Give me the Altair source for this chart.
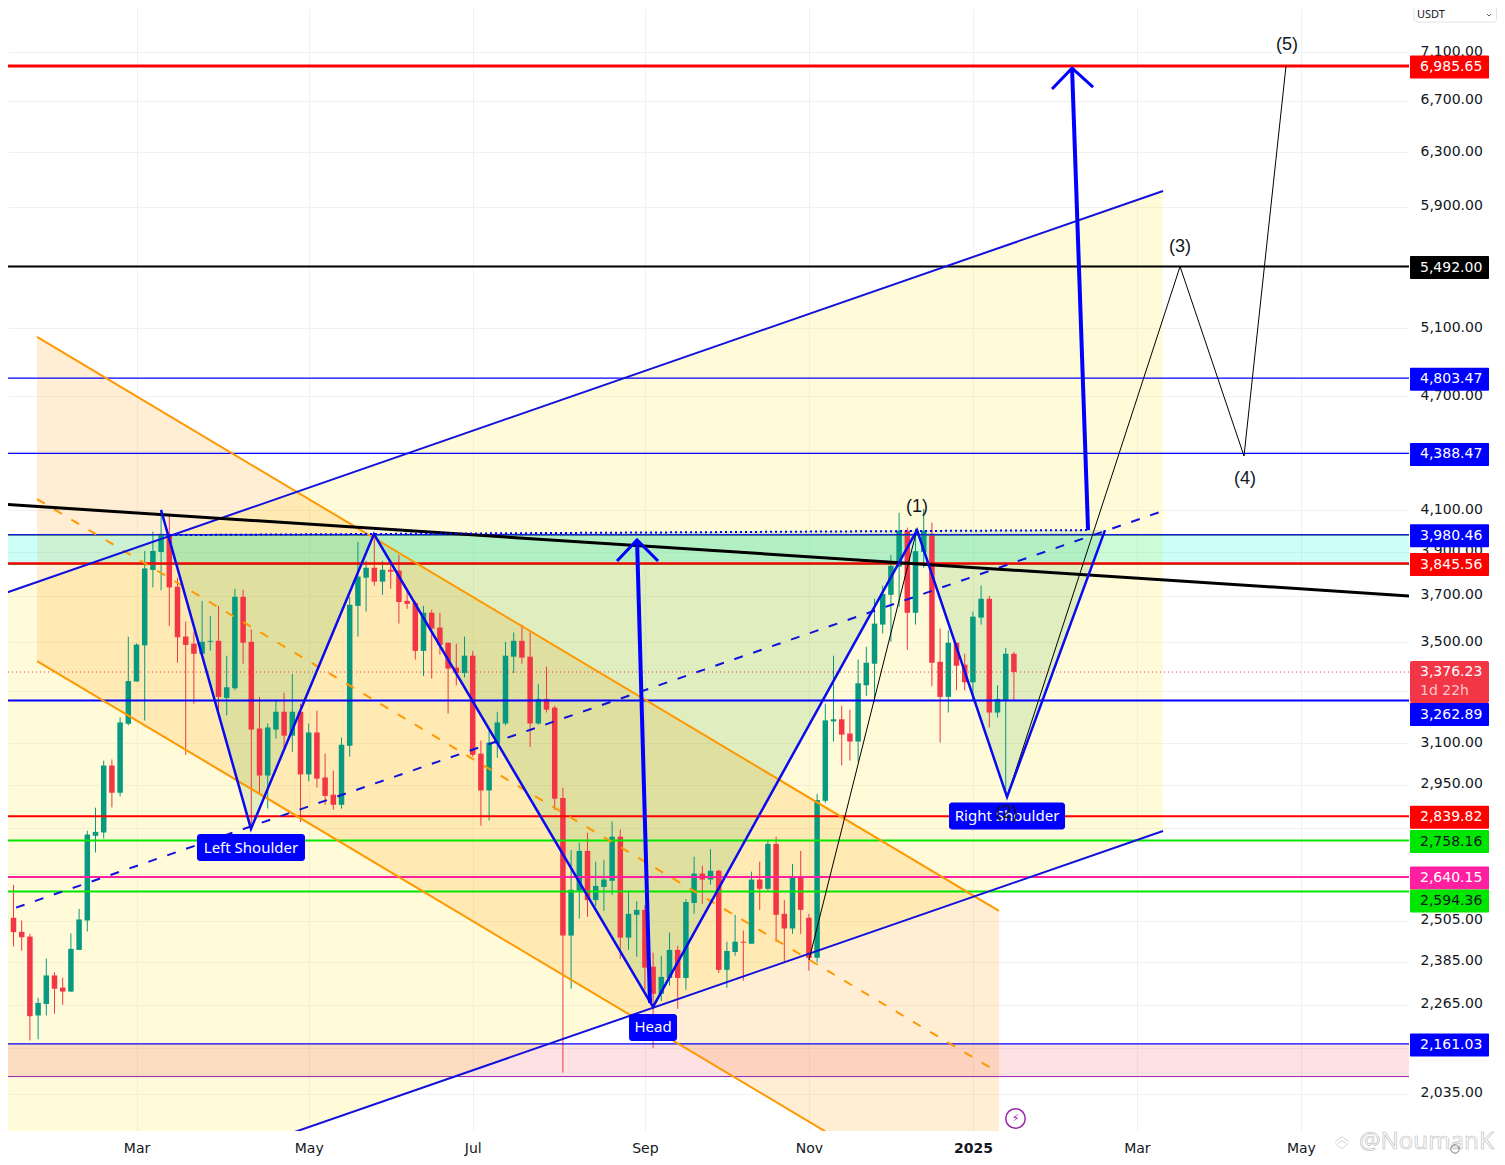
import altair as alt
import pandas as pd

FONT = "Noto Sans"
AXFONT = "DejaVu Sans"
# 3-day candles
candle_open = [2524,2514,2472,2458,2236,2267,2346,2312,2301,2419,2506,2774,2785,3018,2921,3173,3338,3486,3816,3899,3982,3740,3523,3493,3451,3501,3505,3273,3311,3695,3501,3155,2982,3151,3219,3128,3219,2986,3140,2975,2914,2879,3090,3655,3781,3826,3763,3817,3813,3677,3668,3463,3625,3561,3497,3394,3372,3443,3061,2929,3098,3174,3439,3505,3439,3174,3269,3235,2903,2461,2597,2724,2568,2609,2628,2771,2455,2523,2538,2371,2295,2339,2419,2339,2559,2651,2632,2660,2362,2413,2443,2437,2632,2603,2747,2526,2482,2641,2514,2396,2893,3182,3190,3136,3106,3323,3410,3574,3704,3831,4000,3625,3899,3985,3418,3277,3497,3406,3335,3604,3686,3216,3265,3451]
candle_high = [2591,2615,2506,2466,2284,2394,2355,2340,2467,2541,2791,2869,3036,3040,3197,3522,3494,3904,3996,4099,4082,3780,3587,3545,3677,3612,3655,3443,3731,3726,3553,3277,3174,3265,3293,3368,3250,3174,3223,3061,3000,3121,3695,3947,3858,3985,3858,3863,3885,3731,3677,3655,3638,3625,3497,3493,3523,3463,3109,3151,3219,3501,3540,3574,3540,3327,3398,3242,2939,2727,2751,2784,2689,2695,2822,2795,2597,2565,2553,2411,2402,2470,2431,2571,2705,2676,2730,2663,2443,2523,2476,2657,2689,2761,2771,2568,2682,2724,2526,2917,3250,3443,3242,3227,3427,3480,3686,3745,3885,4087,4015,4010,4106,4039,3557,3549,3497,3451,3630,3745,3699,3323,3475,3459]
candle_low = [2471,2429,2417,2170,2173,2236,2241,2265,2301,2419,2473,2719,2765,2870,2908,3167,3338,3185,3737,3724,3568,3414,3057,3250,3451,3464,3212,3205,3303,3410,2797,2914,2866,3117,3071,3068,2820,2961,2939,2879,2862,2866,3050,3523,3630,3745,3704,3731,3578,3642,3427,3360,3350,3447,3212,3323,3354,3050,2808,2825,3046,3167,3372,3410,3086,3170,3216,2862,2088,2309,2511,2517,2550,2535,2584,2393,2419,2399,2306,2150,2275,2317,2254,2306,2526,2556,2616,2353,2311,2402,2331,2437,2538,2597,2443,2383,2466,2466,2359,2383,2886,3106,3018,3036,3032,3281,3257,3536,3501,3651,3467,3574,3826,3319,3102,3216,3303,3303,3261,3574,3159,3197,2914,3265]
candle_close = [2511,2471,2456,2234,2270,2346,2309,2301,2422,2509,2778,2787,3018,2921,3178,3340,3489,3823,3904,3985,3737,3520,3488,3451,3501,3505,3277,3315,3695,3497,3151,2982,3159,3219,3128,3219,2986,3140,2971,2910,2879,3094,3660,3786,3826,3763,3817,3808,3672,3664,3463,3625,3557,3488,3390,3372,3443,3057,2929,3102,3178,3443,3505,3435,3174,3269,3227,2900,2461,2600,2724,2568,2612,2632,2771,2455,2526,2538,2368,2295,2342,2419,2339,2562,2651,2632,2660,2362,2416,2443,2440,2632,2603,2747,2523,2482,2641,2538,2396,2896,3186,3190,3132,3106,3331,3414,3578,3708,3835,4000,3625,3903,4000,3414,3277,3497,3402,3335,3608,3686,3216,3269,3451,3376.23]

price_ticks = [7100,6700,6300,5900,5500,5100,4700,4400,4100,3900,3700,3500,3300,3100,2950,2800,2650,2505,2385,2265,2150,2035]
hidden_ticks = [5500,4400,3300,2800,2650,2150]
month_ticks = [(2024,3,1),(2024,5,3),(2024,7,2),(2024,9,3),(2024,11,2),(2025,1,1),(2025,3,2),(2025,5,1)]

# price tags: value, where the tag sits, fill, text colour
tag_values = [6985.65,5492.00,4803.47,4388.47,3980.46,3845.56,3262.89,2839.82,2758.16,2640.15,2594.36,2161.03]
tag_places = [6985.65,5492.00,4803.47,4388.47,3980.46,3845.56,3212,2839.82,2758.16,2640.15,2568,2161.03]
tag_fills = ["#ff0000","#000000","#0000ff","#0000ff","#0000ff","#ff0000","#0000ff","#ff0000","#00e600","#ff1fa0","#00e600","#0000ff"]
tag_text = ["white","white","white","white","white","white","white","white","#131722","white","#131722","white"]
level_widths = [3,2,1.2,1.2,1.5,2,2,2,2,2,2,1.2]
last_price = 3376.23
band_top, band_bottom = 3980.46, 3845.56
pink_top, pink_bottom = 2161.03, 2078

# drawings, in bar numbers and prices
orange_bars = [3.866,121.18]
orange_upper = [5047,2535]
orange_middle = [4155,2087]
orange_lower = [3421,1718]
blue_bars = [-1,141.18]
blue_upper = [3699,6013]
blue_middle = [2525,4096]
blue_lower = [1718,2790]
trend_bars = [-0.65,171.18]
trend_prices = [4130,3699]
neck_bars = [20.09,132.04]
neck_prices = [3979,4003]
hs_line_bars = [18.99,29.96,44.96,78.99,111.18,122.16,134.11]
hs_line_prices = [4101,2797,3984,2259,4003,2906,4003]
hs_fill_bars = [19.85,29.96,44.96,78.99,111.18,122.16,134.11]
hs_fill_top = [3979,3982,3984,3993,4003,4003,4003]
hs_fill_bottom = [3979,2797,3984,2259,4003,2906,4003]
wave_bars = [98.01,111.18,122.16,143.26,151.06,156.18]
wave_prices = [2390,4008,2906,5492,4375,6985.65]
arrow1_shaft_bars = [78.62,77.04]
arrow1_shaft_prices = [2270,3956]
arrow1_head_bars = [74.6,77.04,79.6]
arrow1_head_prices = [3857,3956,3857]
arrow2_shaft_bars = [132.04,130.09]
arrow2_shaft_prices = [4003,6968]
arrow2_head_bars = [127.65,130.09,132.65]
arrow2_head_prices = [6795,6968,6811]
wave_labels = ["(1)","(2)","(3)","(4)","(5)"]
wave_label_bars = [111.18,122.16,143.26,151.18,156.3]
wave_label_prices = [4115,2851,5622,4256,7164]
box_labels = ["Left Shoulder","Head","Right Shoulder"]
box_bars = [29.96,78.99,122.16]
box_prices = [2735,2204,2841]
box_widths = [108,48,116]

START = pd.Timestamp("2024-01-13")
def when(bar):
    return (START + pd.Timedelta(days=3 * bar)).floor("s")

X_DOMAIN = [when(0.329).isoformat(), when(171.18).isoformat()]
Y_DOMAIN = [1946.6, 7489]
xs = alt.Scale(domain=X_DOMAIN, padding=0)
ys = alt.Scale(type="log", domain=Y_DOMAIN, nice=False, padding=0)
X = lambda f="t": alt.X(f"{f}:T", scale=xs, title=None)
Y = lambda f="p": alt.Y(f"{f}:Q", scale=ys, title=None)

GREEN, RED = "#089981", "#F23645"
bars = list(range(len(candle_open)))
df = pd.DataFrame({"t":[when(b) for b in bars],"o":candle_open,"h":candle_high,"l":candle_low,"c":candle_close})
df["top"] = df[["o","c"]].max(axis=1)
df["bot"] = df[["o","c"]].min(axis=1)
df["col"] = [GREEN if c >= o else RED for o, c in zip(candle_open, candle_close)]

GRID = "#f0f1f4"
x_axis = alt.Axis(values=[{"year":y,"month":m,"date":d} for y,m,d in month_ticks],
    labelExpr="month(datum.value)==0 ? timeFormat(datum.value,'%Y') : timeFormat(datum.value,'%b')",
    labelFontWeight={"condition":{"test":"datum.label=='2025'","value":"bold"},"value":"normal"},
    grid=True, gridColor=GRID, domain=False, ticks=False, labelFont=AXFONT, labelFontSize=14,
    labelColor="#131722", labelPadding=10, labelOverlap=False, labelFlush=False, title=None)
y_axis = alt.Axis(orient="right", values=price_ticks, grid=True, gridColor=GRID,
    labelExpr=f"indexof({hidden_ticks},datum.value)>=0 ? '' : format(datum.value,',.2f')",
    domain=False, ticks=False, labelFont=AXFONT, labelFontSize=14, labelColor="#131722",
    labelPadding=11, labelOffset=-1, labelOverlap=False, labelFlush=False, title=None)

base_axes = alt.Chart(df).mark_rule(opacity=0).encode(
    x=alt.X("t:T", scale=xs, axis=x_axis, title=None),
    y=alt.Y("h:Q", scale=ys, axis=y_axis, title=None))

wicks = alt.Chart(df).mark_rule(strokeWidth=1, clip=True).encode(
    x=X(), y=Y("h"), y2="l:Q", color=alt.Color("col:N", scale=None))
bodies = alt.Chart(df).mark_bar(size=5.5, clip=True).encode(
    x=X(), y=Y("top"), y2="bot:Q", color=alt.Color("col:N", scale=None))

def area(bs, top, bottom, color, op):
    d = pd.DataFrame({"t":[when(b) for b in bs],"p":top,"q":bottom})
    return alt.Chart(d).mark_area(color=color, opacity=op, clip=True).encode(x=X(), y=Y(), y2="q:Q")

def line(bs, ps, color, width, dash=None, join="miter"):
    d = pd.DataFrame({"t":[when(b) for b in bs],"p":ps,"n":range(len(bs))})
    kw = {"strokeDash":dash} if dash else {}
    return alt.Chart(d).mark_line(color=color, strokeWidth=width, clip=True, strokeJoin=join, **kw).encode(
        x=X(), y=Y(), order="n:Q")

def rule(v, color, width, dash=None):
    kw = {"strokeDash":dash} if dash else {}
    return alt.Chart(pd.DataFrame({"p":[v]})).mark_rule(color=color, strokeWidth=width, **kw).encode(y=Y())

def band(a, b, color, op):
    return alt.Chart(pd.DataFrame({"p":[a],"q":[b]})).mark_rect(color=color, opacity=op).encode(y=Y(), y2="q:Q")

layers = [base_axes,
    area(blue_bars, blue_upper, blue_lower, "#ffeb3b", 0.2),
    area(orange_bars, orange_upper, orange_lower, "#ff9800", 0.17),
    band(pink_top, pink_bottom, "#f23645", 0.15),
    area(hs_fill_bars, hs_fill_top, hs_fill_bottom, "#4caf50", 0.18),
    band(band_top, band_bottom, "#00ffdd", 0.2),
    wicks, bodies,
    rule(last_price, RED, 1, [1,3]),
]
for v, c, w in zip(tag_values, tag_fills, level_widths):
    layers.append(rule(v, c, w))
layers += [rule(band_top, "#388e3c", 1.5), rule(band_bottom-3, "#388e3c", 1),
    rule(band_bottom, "#ff0000", 2), rule(pink_bottom, "#9c27b0", 1), rule(band_top+1.5, "#1a1ae6", 1),
    line(orange_bars, orange_upper, "#ff9800", 2),
    line(orange_bars, orange_lower, "#ff9800", 2),
    line(orange_bars, orange_middle, "#ff9800", 2, [9,11]),
    line(blue_bars, blue_upper, "#1111dd", 2),
    line(blue_bars, blue_lower, "#1111dd", 2),
    line(blue_bars, blue_middle, "#1111dd", 2, [9,11]),
    line(trend_bars, trend_prices, "#000000", 3),
    line(neck_bars, neck_prices, "#0000ff", 2, [2,3]),
    line(wave_bars, wave_prices, "#000000", 1),
    line(hs_line_bars, hs_line_prices, "#0a0af0", 2.5),
    line(arrow1_shaft_bars, arrow1_shaft_prices, "#0000ff", 4),
    line(arrow1_head_bars, arrow1_head_prices, "#0000ff", 3),
    line(arrow2_shaft_bars, arrow2_shaft_prices, "#0000ff", 4),
    line(arrow2_head_bars, arrow2_head_prices, "#0000ff", 3),
]

for lab, b, p, w in zip(box_labels, box_bars, box_prices, box_widths):
    d = pd.DataFrame({"t":[when(b)],"p":[p],"s":[lab]})
    layers.append(alt.Chart(d).mark_rect(width=w, height=27, cornerRadius=3, color="#0000ff").encode(x=X(), y=Y()))
    layers.append(alt.Chart(d).mark_text(color="white", font=FONT, fontSize=15).encode(x=X(), y=Y(), text="s:N"))

wl = pd.DataFrame({"t":[when(b) for b in wave_label_bars],"p":wave_label_prices,"s":wave_labels})
layers.append(alt.Chart(wl).mark_text(color="#131722", font="Liberation Sans", fontSize=18).encode(x=X(), y=Y(), text="s:N"))

# price scale tags
TAG_X = 1441.5
tags = pd.DataFrame({"p":tag_places,"f":tag_fills,"c":tag_text,"s":[f"{v:,.2f}" for v in tag_values]})
last = pd.DataFrame({"p":[last_price],"s":[f"{last_price:,.2f}"],"u":["1d 22h"]})
layers.append(alt.Chart(last).mark_rect(width=79, height=42, yOffset=10, cornerRadius=2, color=RED).encode(x=alt.value(TAG_X), y=Y()))
layers.append(alt.Chart(tags).mark_rect(width=79, height=23, yOffset=1, cornerRadius=1).encode(x=alt.value(TAG_X), y=Y(), color=alt.Color("f:N", scale=None)))
layers.append(alt.Chart(tags).mark_text(align="left", font=AXFONT, fontSize=14, dy=1).encode(
    x=alt.value(1412), y=Y(), text="s:N", color=alt.Color("c:N", scale=None)))
layers.append(alt.Chart(last).mark_text(align="left", font=AXFONT, fontSize=14, color="white").encode(x=alt.value(1412), y=Y(), text="s:N"))
layers.append(alt.Chart(last).mark_text(align="left", font=AXFONT, fontSize=14, color="#ffc4c8", dy=19).encode(x=alt.value(1412), y=Y(), text="u:N"))

# furniture
one = pd.DataFrame({"s":["USDT"],"w":["@NoumanK"],"b":["⚡"]})
layers += [
    alt.Chart(one).mark_rect(fill="white", stroke="#e0e3eb", cornerRadius=3).encode(
        x=alt.value(1406), x2=alt.value(1488.5), y=alt.value(-3), y2=alt.value(14)),
    alt.Chart(one).mark_text(align="left", font=FONT, fontSize=11, color="#131722").encode(x=alt.value(1409), y=alt.value(7), text="s:N"),
    alt.Chart(one).mark_point(shape="M-1,-0.5L0,0.5L1,-0.5", size=16, stroke="#131722", strokeWidth=1).encode(x=alt.value(1481), y=alt.value(7)),
    alt.Chart(one).mark_point(shape="circle", size=380, fill="white", filled=True, stroke="#9c27b0", strokeWidth=1.5, opacity=1).encode(x=alt.value(1007.5), y=alt.value(1110.5)),
    alt.Chart(one).mark_text(font="DejaVu Sans", fontSize=11, color="#9c27b0").encode(x=alt.value(1007.5), y=alt.value(1110.5), text="b:N"),
    alt.Chart(one).mark_text(align="left", font=FONT, fontSize=24, fill="white", fillOpacity=0, stroke="#b8b8b8", strokeWidth=0.6).encode(x=alt.value(1351), y=alt.value(1134), text="w:N"),
    alt.Chart(one).mark_point(shape="M-1,-0.1L0,-0.8L1,-0.1M-0.6,0.2L0,-0.2L0.6,0.2M-1,0.2L0,1L1,0.2", size=180, stroke="#c4c4c4", strokeWidth=1).encode(x=alt.value(1334), y=alt.value(1134)),
    alt.Chart(one).mark_point(shape="circle", size=70, stroke="#444444", strokeWidth=1).encode(x=alt.value(1447), y=alt.value(1141)),
]

chart = alt.layer(*layers).properties(
    width=1401, height=1123, autosize="none",
    padding={"left":0,"top":0,"right":88,"bottom":26},
    background="white",
).configure_view(stroke=None)

chart.save("out.html", embed_options={"renderer": "svg", "actions": False})
